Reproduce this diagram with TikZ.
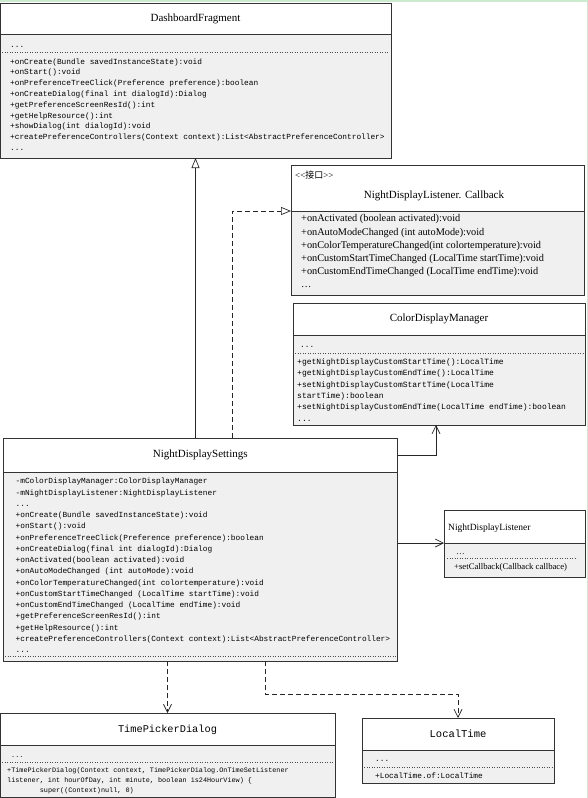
\documentclass[tikz,border=0pt]{standalone}
\usepackage{fontspec}
\setmainfont{Liberation Serif}
\setmonofont{Liberation Mono}
\newfontfamily\cjk{Noto Sans CJK SC}
\usetikzlibrary{positioning,arrows.meta}
\definecolor{boxgray}{HTML}{F0F0F0}
\definecolor{edgegreen}{HTML}{CDEBCD}
\tikzset{
  classhead/.style={draw=black!80, line width=0.8pt, fill=white, inner sep=0pt, outer sep=0pt, anchor=north west, font=\fontsize{11}{13}\selectfont},
  classbody/.style={draw=black!80, line width=0.8pt, fill=boxgray, inner sep=0pt, outer sep=0pt},
  members/.style={inner sep=0pt, anchor=north west, align=left, font=\ttfamily\fontsize{7.8}{#1}\selectfont, execute at begin node=\strut},
  members/.default=11.2,
  dots/.style={inner sep=0pt, anchor=base west, font=\ttfamily\fontsize{7.8}{9}\selectfont},
  sepline/.style={black!70, line width=0.5pt, dotted},
  gen/.style={black!85, line width=0.7pt, -{Triangle[open, length=10pt, width=8pt]}},
  real/.style={black!85, line width=0.7pt, dash pattern=on 5pt off 3pt, -{Triangle[open, length=10pt, width=8pt]}},
  assoc/.style={black!85, line width=0.7pt, -{Straight Barb[length=8pt, width=8pt]}},
  dep/.style={black!85, line width=0.7pt, dash pattern=on 5pt off 3pt, -{Straight Barb[length=8pt, width=8pt]}}
}
\begin{document}
\begin{tikzpicture}[x=1pt, y=-1pt]
\useasboundingbox (0,0) rectangle (588,798);
\draw[edgegreen, line width=1.5pt] (0,0.75) -- (587.25,0.75) -- (587.25,798);

% DashboardFragment
\node[classhead, minimum width=391pt, minimum height=31.5pt] (dfh) at (0,3) {DashboardFragment};
\node[classbody, below=0pt of dfh.south west, anchor=north west, minimum width=391pt, minimum height=123.5pt] (dfb) {};
\node[dots] (dfd) at (10,47) {...};
\draw[sepline] ([xshift=2pt,yshift=-17.5pt]dfb.north west) -- ([xshift=-2pt,yshift=-17.5pt]dfb.north east);
\node[members=10.8] (dfm) at (10,58.2) {+onCreate(Bundle savedInstanceState):void\\
+onStart():void\\
+onPreferenceTreeClick(Preference preference):boolean\\
+onCreateDialog(final int dialogId):Dialog\\
+getPreferenceScreenResId():int\\
+getHelpResource():int\\
+showDialog(int dialogId):void\\
+createPreferenceControllers(Context context):List<AbstractPreferenceController>\\
...};

% NightDisplayListener.Callback
\node[classhead, minimum width=293pt, minimum height=46pt] (cbh) at (291,165) {};
\node[classbody, below=0pt of cbh.south west, anchor=north west, minimum width=293pt, minimum height=84pt] (cbb) {};
\node[inner sep=0pt, anchor=base west, font=\fontsize{9}{11}\selectfont] (cbs) at (295,178) {{<}{<}{\cjk 接口}{>}{>}};
\node[inner sep=0pt, anchor=base, font=\fontsize{11}{13}\selectfont] (cbt) at (434,198) {NightDisplayListener. Callback};
\node[members=13.2, font=\rmfamily\fontsize{10.3}{13.2}\selectfont] (cbm) at (301,214.5) {+onActivated (boolean activated):void\\
+onAutoModeChanged (int autoMode):void\\
+onColorTemperatureChanged(int colortemperature):void\\
+onCustomStartTimeChanged (LocalTime startTime):void\\
+onCustomEndTimeChanged (LocalTime endTime):void\\
\ldots};

% ColorDisplayManager
\node[classhead, minimum width=292pt, minimum height=32pt] (cdmh) at (293,303) {ColorDisplayManager};
\node[classbody, below=0pt of cdmh.south west, anchor=north west, minimum width=292pt, minimum height=90pt] (cdmb) {};
\node[dots] (cdmd) at (300,347.5) {...};
\draw[sepline] ([xshift=2pt,yshift=-18pt]cdmb.north west) -- ([xshift=-2pt,yshift=-18pt]cdmb.north east);
\node[members=11.3, font=\ttfamily\fontsize{8}{11.3}\selectfont] (cdmm) at (297,358.6) {+getNightDisplayCustomStartTime():LocalTime\\
+getNightDisplayCustomEndTime():LocalTime\\
+setNightDisplayCustomStartTime(LocalTime\\
startTime):boolean\\
+setNightDisplayCustomEndTime(LocalTime endTime):boolean\\
...};

% NightDisplaySettings
\node[classhead, minimum width=394.5pt, minimum height=34pt] (ndsh) at (3,438) {NightDisplaySettings};
\node[classbody, below=0pt of ndsh.south west, anchor=north west, minimum width=394.5pt, minimum height=189pt] (ndsb) {};
\node[members=11.25] (ndsm) at (15.5,478.1) {-mColorDisplayManager:ColorDisplayManager\\
-mNightDisplayListener:NightDisplayListener\\
...\\
+onCreate(Bundle savedInstanceState):void\\
+onStart():void\\
+onPreferenceTreeClick(Preference preference):boolean\\
+onCreateDialog(final int dialogId):Dialog\\
+onActivated(boolean activated):void\\
+onAutoModeChanged (int autoMode):void\\
+onColorTemperatureChanged(int colortemperature):void\\
+onCustomStartTimeChanged (LocalTime startTime):void\\
+onCustomEndTimeChanged (LocalTime endTime):void\\
+getPreferenceScreenResId():int\\
+getHelpResource():int\\
+createPreferenceControllers(Context context):List<AbstractPreferenceController>\\
...};
\draw[sepline] ([xshift=2pt,yshift=4.5pt]ndsb.south west) -- ([xshift=-2pt,yshift=4.5pt]ndsb.south east);

% NightDisplayListener
\node[classhead, minimum width=141pt, minimum height=33pt] (ndlh) at (444,510) {};
\node[classbody, below=0pt of ndlh.south west, anchor=north west, minimum width=141pt, minimum height=34pt] (ndlb) {};
\node[inner sep=0pt, anchor=base west, font=\fontsize{9.5}{11}\selectfont] (ndlt) at (448,530.5) {NightDisplayListener};
\node[inner sep=0pt, anchor=base west, font=\fontsize{8.7}{10}\selectfont] (ndld) at (456,554) {\ldots};
\draw[sepline] ([xshift=3pt,yshift=-15.5pt]ndlb.north west) -- ([xshift=-8pt,yshift=-15.5pt]ndlb.north east);
\node[inner sep=0pt, anchor=base west, font=\fontsize{8.7}{10}\selectfont] (ndlm) at (454,569) {+setCallback(Callback callbace)};

% TimePickerDialog
\node[classhead, minimum width=335pt, minimum height=32.7pt, font=\ttfamily\fontsize{10.3}{12}\selectfont] (tpdh) at (0,713) {TimePickerDialog};
\node[classbody, below=0pt of tpdh.south west, anchor=north west, minimum width=335pt, minimum height=51.3pt] (tpdb) {};
\node[dots, font=\ttfamily\fontsize{6.8}{8}\selectfont] (tpdd) at (11,757.5) {...};
\draw[sepline] ([xshift=2pt,yshift=-16.5pt]tpdb.north west) -- ([xshift=-2pt,yshift=-16.5pt]tpdb.north east);
\node[members=10, font=\ttfamily\fontsize{6.8}{10}\selectfont] (tpdm) at (7,767) {+TimePickerDialog(Context context, TimePickerDialog.OnTimeSetListener\\
listener, int hourOfDay, int minute, boolean is24HourView) \{\\
\phantom{xxxxxxxx}super((Context)null, 0)};

% LocalTime
\node[classhead, minimum width=192pt, minimum height=32pt, font=\ttfamily\fontsize{10.5}{12}\selectfont] (lth) at (362,718) {LocalTime};
\node[classbody, below=0pt of lth.south west, anchor=north west, minimum width=192pt, minimum height=33pt] (ltb) {};
\node[dots] (ltd) at (375,761) {...};
\draw[sepline] ([xshift=2pt,yshift=-17pt]ltb.north west) -- ([xshift=-2pt,yshift=-17pt]ltb.north east);
\node[dots] (ltm) at (375,778) {+LocalTime.of:LocalTime};

% connectors
\draw[gen] (dfb.south |- ndsh.north) -- (dfb.south);
\draw[real] ([xshift=32pt]ndsh.north) |- (cbb.north west);
\draw[assoc] (ndsh.east) -| ([xshift=-3pt]cdmb.south);
\draw[assoc] (ndlh.south west -| ndsb.east) -- (ndlh.south west);
\draw[dep] (tpdh.north |- ndsb.south) -- (tpdh.north);
\draw[dep] ([xshift=65pt]ndsb.south) |- ([yshift=24pt]lth.north) -- (lth.north);
\end{tikzpicture}
\end{document}
